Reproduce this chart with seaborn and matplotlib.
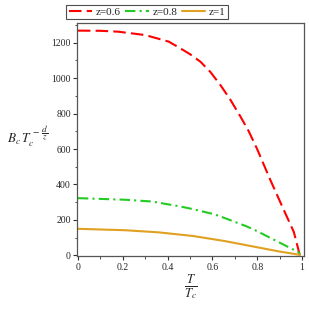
import matplotlib
matplotlib.use("Agg")
import matplotlib.pyplot as plt
import pandas as pd
import seaborn as sns
from matplotlib.ticker import MultipleLocator

# values
t_red = [0.0, 0.1, 0.18, 0.30, 0.405, 0.457, 0.5, 0.546, 0.59, 0.635, 0.68, 0.725,
         0.762, 0.8, 0.858, 0.918, 0.963, 0.99]
b_red = [1268, 1267, 1262, 1243, 1206, 1168, 1135, 1093, 1036, 962, 878, 783,
         700, 598, 426, 257, 132, 0]

t_green = [0.0, 0.211, 0.33, 0.457, 0.509, 0.605, 0.65, 0.754, 0.799, 0.903, 0.985, 0.99]
b_green = [323, 314, 304, 276, 262, 233, 213, 163, 137, 70, 17, 3]

t_orange = [0.0, 0.211, 0.36, 0.457, 0.516, 0.605, 0.65, 0.754, 0.799, 0.903, 0.948, 0.99]
b_orange = [150, 142, 130, 117, 109, 91, 82, 57, 46, 21, 12, 3]

labels = ["z=0.6", "z=0.8", "z=1"]
colors = ["#ff0000", "#22cc22", "#e0a020"]
styles = [(0, (6, 2.5)), (0, (5, 2, 1, 2)), "-"]

frames = []
for lab, t, b in zip(labels, [t_red, t_green, t_orange], [b_red, b_green, b_orange]):
    frames.append(pd.DataFrame({"T": t, "B": b, "z": lab}))
df = pd.concat(frames, ignore_index=True)

sns.set_style("ticks")
plt.rcParams["font.family"] = ["Liberation Serif", "DejaVu Serif"]
plt.rcParams["mathtext.fontset"] = "stix"

fig = plt.figure(figsize=(3.09, 3.09), dpi=100)
ax = fig.add_axes([0.25, 0.17, 0.735, 0.755])

for lab, col, ls in zip(labels, colors, styles):
    sub = df[df["z"] == lab]
    sns.lineplot(data=sub, x="T", y="B", ax=ax, color=col, linewidth=1.5,
                 linestyle=ls, label=lab, legend=False)

ax.set_xlim(-0.003, 1.01)
ax.set_ylim(-6, 1310)
ax.xaxis.set_minor_locator(MultipleLocator(0.1))
ax.yaxis.set_major_locator(MultipleLocator(200))
ax.yaxis.set_minor_locator(MultipleLocator(100))
ax.set_xticks([0, 0.2, 0.4, 0.6, 0.8, 1.0])
ax.set_xticklabels(["0", "0.2", "0.4", "0.6", "0.8", "1"])
ax.tick_params(axis="both", which="major", labelsize=7, length=3, width=0.8, pad=1.5, color="#333333")
ax.tick_params(axis="both", which="minor", length=1.8, width=0.6, color="#333333")
for sp in ax.spines.values():
    sp.set_color("#555555")
    sp.set_linewidth(0.9)

ax.set_xlabel(r"$\frac{T}{T_c}$", fontsize=13, labelpad=1)
ax.set_ylabel(r"$B_c\,T_c^{\,-\,\dfrac{d}{z}}$", fontsize=9.5, rotation=0, labelpad=14)
ax.yaxis.set_label_coords(-0.22, 0.46)

handles, labs = ax.get_legend_handles_labels()
leg = fig.legend(handles, labs, loc="upper left", bbox_to_anchor=(0.215, 0.985), ncol=3,
                 fontsize=8, frameon=True, fancybox=False, handlelength=2.1,
                 columnspacing=0.4, handletextpad=0.35, borderpad=0.2, borderaxespad=0)
leg.get_frame().set_edgecolor("#222222")
leg.get_frame().set_linewidth(0.8)

fig.savefig("out.png", dpi=100)
